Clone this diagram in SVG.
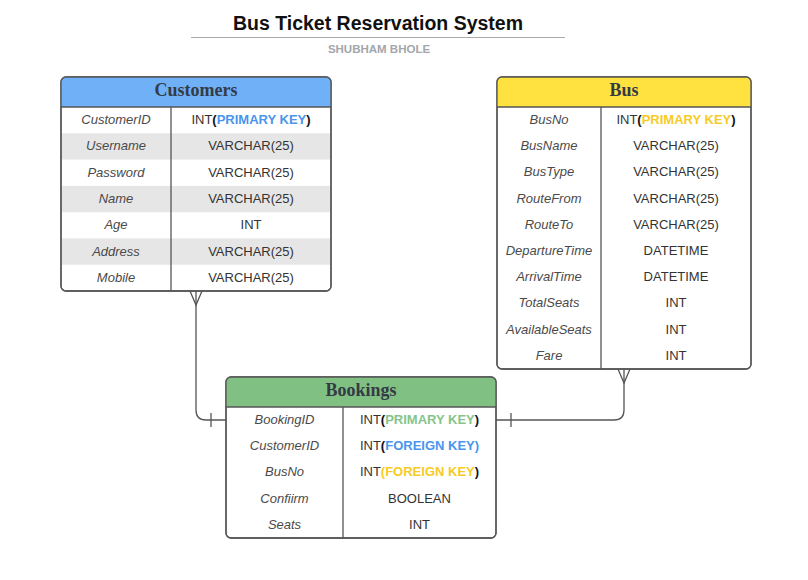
<svg xmlns="http://www.w3.org/2000/svg" width="808" height="580" viewBox="0 0 808 580">
<style>
.box{fill:#fff;stroke:#555;stroke-width:1.3}
.div{stroke:#555;stroke-width:1.3}
.hdrline{stroke:#555;stroke-width:1.3}
.hdr{font-family:"Liberation Serif",serif;font-weight:bold;font-size:18px;fill:#353b45;text-anchor:middle}
.nm{font-family:"Liberation Sans",Arial,sans-serif;font-style:italic;font-size:13px;fill:#4a4a4a;text-anchor:middle}
.ty{font-family:"Liberation Sans",Arial,sans-serif;font-size:13px;fill:#333;text-anchor:middle}
.b{font-weight:bold;fill:#111}
.kb{font-weight:bold;fill:#4a95ee}
.ky{font-weight:bold;fill:#f7cb25}
.kg{font-weight:bold;fill:#86c489}
.stripe{fill:#e6e6e6}
.conn{fill:none;stroke:#555;stroke-width:1.3}
</style>
<rect width="808" height="580" fill="#fff"/>
<g id="title">
<text x="378" y="30" text-anchor="middle" font-family="Liberation Sans,Arial,sans-serif" font-weight="bold" font-size="19.5" fill="#111">Bus Ticket Reservation System</text>
<line x1="191" y1="37.5" x2="565" y2="37.5" stroke="#aaa" stroke-width="1.2"/>
<text x="379" y="53" text-anchor="middle" font-family="Liberation Sans,Arial,sans-serif" font-weight="bold" font-size="11.5" fill="#a3a6ab">SHUBHAM BHOLE</text>
</g>
<g id="connectors">
<path class="conn" d="M196,291 V410 Q196,420 206,420 H226"/>
<path class="conn" d="M190,291 L196,305 L202,291"/>
<path class="conn" d="M211,413 V427"/>
<path class="conn" d="M496,420 H614 Q624,420 624,410 V369"/>
<path class="conn" d="M618,369 L624,383 L630,369"/>
<path class="conn" d="M511,413 V427"/>
</g>
<g id="customers">
<rect class="box" x="61" y="77" width="270" height="214" rx="5"/>
<path d="M66,77 H326 Q331,77 331,82 V107 H61 V82 Q61,77 66,77 Z" fill="#6fb0f6"/>
<rect class="stripe" x="62" y="133.3" width="268" height="26.3"/>
<rect class="stripe" x="62" y="185.9" width="268" height="26.3"/>
<rect class="stripe" x="62" y="238.4" width="268" height="26.3"/>
<rect x="61" y="77" width="270" height="214" rx="5" fill="none" stroke="#555" stroke-width="1.3"/>
<line class="hdrline" x1="61" y1="107" x2="331" y2="107"/>
<line class="div" x1="171" y1="107" x2="171" y2="291"/>
<text class="hdr" x="196" y="96">Customers</text>
<text class="nm" x="116" y="124">CustomerID</text>
<text class="nm" x="116" y="150.3">Username</text>
<text class="nm" x="116" y="176.6">Password</text>
<text class="nm" x="116" y="202.9">Name</text>
<text class="nm" x="116" y="229.2">Age</text>
<text class="nm" x="116" y="255.5">Address</text>
<text class="nm" x="116" y="281.8">Mobile</text>
<text class="ty" x="251" y="124">INT<tspan class="b">(</tspan><tspan class="kb">PRIMARY KEY</tspan><tspan class="b">)</tspan></text>
<text class="ty" x="251" y="150.3">VARCHAR(25)</text>
<text class="ty" x="251" y="176.6">VARCHAR(25)</text>
<text class="ty" x="251" y="202.9">VARCHAR(25)</text>
<text class="ty" x="251" y="229.2">INT</text>
<text class="ty" x="251" y="255.5">VARCHAR(25)</text>
<text class="ty" x="251" y="281.8">VARCHAR(25)</text>
</g>
<g id="bus">
<rect class="box" x="497" y="77" width="254" height="292" rx="5"/>
<path d="M502,77 H746 Q751,77 751,82 V107 H497 V82 Q497,77 502,77 Z" fill="#ffe13f"/>
<rect x="497" y="77" width="254" height="292" rx="5" fill="none" stroke="#555" stroke-width="1.3"/>
<line class="hdrline" x1="497" y1="107" x2="751" y2="107"/>
<line class="div" x1="601" y1="107" x2="601" y2="369"/>
<text class="hdr" x="624" y="96">Bus</text>
<text class="nm" x="549" y="124">BusNo</text>
<text class="nm" x="549" y="150.2">BusName</text>
<text class="nm" x="549" y="176.4">BusType</text>
<text class="nm" x="549" y="202.6">RouteFrom</text>
<text class="nm" x="549" y="228.8">RouteTo</text>
<text class="nm" x="549" y="255">DepartureTime</text>
<text class="nm" x="549" y="281.2">ArrivalTime</text>
<text class="nm" x="549" y="307.4">TotalSeats</text>
<text class="nm" x="549" y="333.6">AvailableSeats</text>
<text class="nm" x="549" y="359.8">Fare</text>
<text class="ty" x="676" y="124">INT<tspan class="b">(</tspan><tspan class="ky">PRIMARY KEY</tspan><tspan class="b">)</tspan></text>
<text class="ty" x="676" y="150.2">VARCHAR(25)</text>
<text class="ty" x="676" y="176.4">VARCHAR(25)</text>
<text class="ty" x="676" y="202.6">VARCHAR(25)</text>
<text class="ty" x="676" y="228.8">VARCHAR(25)</text>
<text class="ty" x="676" y="255">DATETIME</text>
<text class="ty" x="676" y="281.2">DATETIME</text>
<text class="ty" x="676" y="307.4">INT</text>
<text class="ty" x="676" y="333.6">INT</text>
<text class="ty" x="676" y="359.8">INT</text>
</g>
<g id="bookings">
<rect class="box" x="226" y="377" width="270" height="161" rx="5"/>
<path d="M231,377 H491 Q496,377 496,382 V407 H226 V382 Q226,377 231,377 Z" fill="#80c183"/>
<rect x="226" y="377" width="270" height="161" rx="5" fill="none" stroke="#555" stroke-width="1.3"/>
<line class="hdrline" x1="226" y1="407" x2="496" y2="407"/>
<line class="div" x1="343" y1="407" x2="343" y2="538"/>
<text class="hdr" x="361" y="396">Bookings</text>
<text class="nm" x="284.5" y="424">BookingID</text>
<text class="nm" x="284.5" y="450.2">CustomerID</text>
<text class="nm" x="284.5" y="476.4">BusNo</text>
<text class="nm" x="284.5" y="502.6">Confiirm</text>
<text class="nm" x="284.5" y="528.8">Seats</text>
<text class="ty" x="419.5" y="424">INT<tspan class="b">(</tspan><tspan class="kg">PRIMARY KEY</tspan><tspan class="b">)</tspan></text>
<text class="ty" x="419.5" y="450.2">INT<tspan class="b">(</tspan><tspan class="kb">FOREIGN KEY)</tspan></text>
<text class="ty" x="419.5" y="476.4">INT<tspan class="ky">(FOREIGN KEY</tspan><tspan class="b">)</tspan></text>
<text class="ty" x="419.5" y="502.6">BOOLEAN</text>
<text class="ty" x="419.5" y="528.8">INT</text>
</g>
</svg>
